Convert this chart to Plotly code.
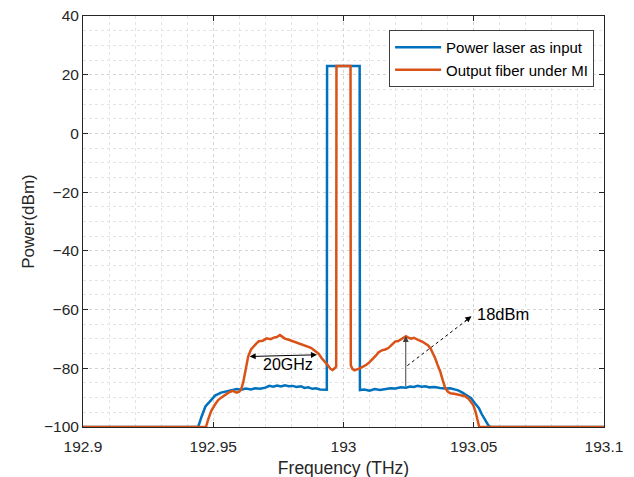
import plotly.graph_objects as go

# ---------------- data ----------------
freq_input = [192.900, 192.9442, 192.9455, 192.9470, 192.9490, 192.9507, 192.9530, 192.9557,
              192.9575, 192.9590, 192.9607, 192.9625, 192.9645, 192.9660, 192.9680, 192.9700,
              192.9715, 192.9730, 192.9745, 192.9760, 192.9775, 192.9790, 192.9805, 192.9820,
              192.9837, 192.9850, 192.9865, 192.9880, 192.9895, 192.9910, 192.9925, 192.9936,
              192.9937, 193.0062, 193.0063, 193.0080, 193.0100, 193.0120, 193.0140, 193.0160,
              193.0180, 193.0200, 193.0220, 193.0240, 193.0255, 193.0270, 193.0285, 193.0300,
              193.0315, 193.0330, 193.0350, 193.0370, 193.0390, 193.0410, 193.0425, 193.0440,
              193.0455, 193.0470, 193.0490, 193.0505, 193.0520, 193.0530, 193.0542, 193.0555,
              193.0563, 193.100]
power_input = [-100.0, -100.0, -96.5, -93.0, -91.0, -89.3, -88.3, -87.6,
               -87.4, -87.1, -87.3, -86.9, -87.2, -86.8, -87.0, -86.6,
               -86.0, -86.3, -85.9, -86.2, -85.8, -86.1, -86.0, -86.4,
               -86.1, -86.7, -86.5, -87.0, -86.8, -87.2, -87.4, -87.3,
               23.0, 23.0, -87.4, -87.2, -87.6, -87.1, -87.4, -87.0,
               -86.8, -86.9, -86.5, -86.6, -86.2, -86.4, -86.0, -86.3,
               -86.1, -86.5, -86.4, -86.7, -86.9, -86.8, -87.2, -87.5,
               -88.2, -89.0, -90.2, -92.0, -93.6, -95.5, -97.5, -99.3,
               -100.0, -100.0]

freq_output = [192.900, 192.9472, 192.9480, 192.9492, 192.9505, 192.9518, 192.9530, 192.9545,
               192.9560, 192.9575, 192.9590, 192.9600, 192.9607, 192.9615, 192.9622, 192.9634,
               192.9645, 192.9655, 192.9665, 192.9675, 192.9690, 192.9705, 192.9720, 192.9735,
               192.9745, 192.9756, 192.9765, 192.9775, 192.9790, 192.9805, 192.9815, 192.9830,
               192.9845, 192.9860, 192.9875, 192.9890, 192.9905, 192.9915, 192.9928, 192.9940,
               192.9950, 192.9958, 192.9966, 192.9972, 192.9973, 193.0027, 193.0028, 193.0034,
               193.0042, 193.0050, 193.0062, 193.0075, 193.0088, 193.0100, 193.0112, 193.0125,
               193.0135, 193.0147, 193.0160, 193.0172, 193.0185, 193.0198, 193.0210, 193.0220,
               193.0230, 193.0240, 193.0250, 193.0260, 193.0270, 193.0280, 193.0290, 193.0302,
               193.0315, 193.0325, 193.0335, 193.0345, 193.0352, 193.0360, 193.0371, 193.0380,
               193.0390, 193.0400, 193.0410, 193.0425, 193.0440, 193.0455, 193.0467, 193.0480,
               193.0490, 193.0498, 193.0507, 193.0513, 193.0518, 193.0521, 193.100]
power_output = [-100.0, -100.0, -97.6, -94.6, -92.6, -90.9, -90.0, -89.2,
                -88.2, -87.7, -88.3, -88.0, -87.2, -84.8, -81.0, -76.0,
                -73.6, -72.5, -71.6, -70.8, -70.6, -69.8, -70.1, -69.5,
                -69.3, -68.7, -69.2, -69.9, -70.3, -70.8, -71.1, -71.6,
                -72.2, -72.5, -73.0, -74.0, -75.1, -76.4, -77.6, -79.0,
                -80.2, -80.6, -80.0, -79.4, 23.0, 23.0, -79.0, -80.2,
                -80.7, -80.5, -80.0, -79.4, -78.8, -77.9, -76.9, -75.6,
                -74.5, -73.9, -73.6, -73.1, -72.0, -70.9, -70.7, -70.1,
                -69.8, -69.1, -69.6, -69.9, -69.6, -70.2, -70.5, -70.9,
                -71.5, -72.2, -73.4, -75.0, -76.6, -78.6, -81.0, -83.8,
                -86.6, -87.9, -88.5, -88.7, -89.0, -89.2, -89.5, -90.4,
                -91.6, -92.5, -94.8, -97.0, -99.3, -100.0, -100.0]

x_ticks = [192.9, 192.95, 193.0, 193.05, 193.1]
x_tick_labels = ["192.9", "192.95", "193", "193.05", "193.1"]
y_ticks = [-100, -80, -60, -40, -20, 0, 20, 40]
series_names = ["Power laser as input", "Output fiber under MI"]

BLUE = "#0072BD"
ORANGE = "#D95319"
AXC = "#262626"
FONT = "Liberation Sans, Arial, Helvetica, sans-serif"

fig = go.Figure()
fig.add_trace(go.Scatter(x=freq_input, y=power_input, mode="lines", name=series_names[0],
                         line=dict(color=BLUE, width=2.5), cliponaxis=False))
fig.add_trace(go.Scatter(x=freq_output, y=power_output, mode="lines", name=series_names[1],
                         line=dict(color=ORANGE, width=2.5), cliponaxis=False))

# 20 GHz double arrow
fig.add_annotation(x=192.9898, y=-75.4, ax=192.9634, ay=-76.0, xref="x", yref="y",
                   axref="x", ayref="y", text="", showarrow=True, arrowhead=2,
                   arrowside="end+start", arrowsize=1.2, arrowwidth=1, arrowcolor="black",
                   standoff=0, startstandoff=0)
fig.add_annotation(x=192.9787, y=-78.7, text="20GHz", showarrow=False,
                   font=dict(family=FONT, size=16, color="black"))

# 18 dBm vertical arrow
fig.add_annotation(x=193.0239, y=-69.0, ax=193.0239, ay=-86.6, xref="x", yref="y",
                   axref="x", ayref="y", text="", showarrow=True, arrowhead=2,
                   arrowsize=1.2, arrowwidth=1, arrowcolor="#404040", standoff=0)

# dotted arrow to the label
fig.add_shape(type="line", x0=193.0245, y0=-79.1, x1=193.0489, y1=-62.5,
              xref="x", yref="y", line=dict(color="black", width=1, dash="dot"))
fig.add_annotation(x=193.0491, y=-62.3, ax=-8, ay=6, xref="x", yref="y",
                   text="", showarrow=True, arrowhead=2, arrowsize=1.2, arrowwidth=1,
                   arrowcolor="black", standoff=0)
fig.add_annotation(x=193.0504, y=-61.4, text="18dBm", showarrow=False, xanchor="left",
                   font=dict(family=FONT, size=16.5, color="black"))

axis_common = dict(showline=True, linecolor=AXC, linewidth=1, mirror="ticks",
                   ticks="inside", ticklen=5, tickcolor=AXC, tickwidth=1,
                   showgrid=True, gridcolor="#d4d4d4", griddash="dot", gridwidth=1,
                   zeroline=False, tickfont=dict(family=FONT, size=15.5, color=AXC),
                   layer="below traces", ticklabeloverflow="allow", automargin=False)

fig.update_xaxes(range=[192.9, 193.1], tickmode="array", tickvals=x_ticks,
                 ticktext=x_tick_labels, ticklabelstandoff=5,
                 minor=dict(dtick=0.01, tick0=192.9, showgrid=True, gridcolor="#e4e4e4",
                            griddash="dot", ticks=""),
                 title=dict(text="Frequency (THz)", font=dict(family=FONT, size=17.5, color=AXC),
                            standoff=8),
                 **axis_common)
fig.update_yaxes(range=[-100, 40], tickmode="array", tickvals=y_ticks,
                 minor=dict(dtick=5, tick0=-100, showgrid=True, gridcolor="#e4e4e4",
                            griddash="dot", ticks=""),
                 title=dict(text="Power(dBm)", font=dict(family=FONT, size=17, color=AXC),
                            standoff=5),
                 **axis_common)

fig.update_layout(
    width=634, height=477,
    margin=dict(l=75, r=38, t=8, b=58, autoexpand=False),
    paper_bgcolor="white", plot_bgcolor="white",
    font=dict(family=FONT, color=AXC),
    showlegend=True,
    legend=dict(x=0.981, y=0.966, xanchor="right", yanchor="top",
                bgcolor="white", bordercolor="#404040", borderwidth=1,
                font=dict(family=FONT, size=15, color="black"),
                tracegroupgap=0, itemwidth=46),
)

fig.write_html("out.html")
